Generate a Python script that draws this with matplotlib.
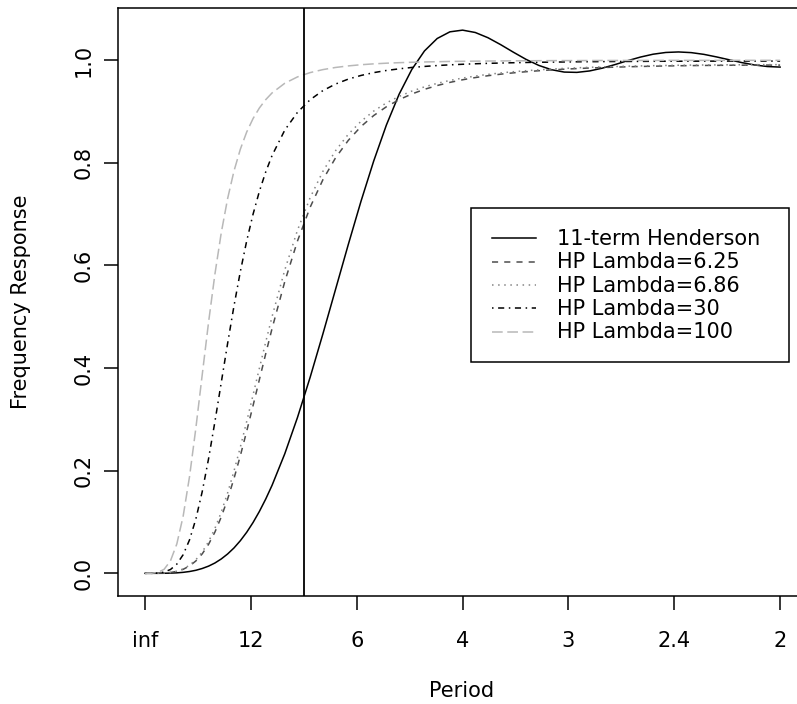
import matplotlib
matplotlib.use("Agg")
import matplotlib.pyplot as plt
from matplotlib.lines import Line2D
from matplotlib.patches import Rectangle

plt.rcParams['font.family'] = ['DejaVu Sans']
plt.rcParams['font.size'] = 15

# frequency (cycles per period)
freq = [0, 0.005, 0.01, 0.015, 0.02, 0.025, 0.03, 0.035, 0.04, 0.045, 0.05,
        0.055, 0.06, 0.065, 0.07, 0.075, 0.08, 0.085, 0.09, 0.095, 0.10,
        0.11, 0.12, 0.13, 0.14, 0.15, 0.16, 0.17, 0.18, 0.19, 0.20,
        0.21, 0.22, 0.23, 0.24, 0.25, 0.26, 0.27, 0.28, 0.29, 0.30,
        0.31, 0.32, 0.33, 0.34, 0.35, 0.36, 0.37, 0.38, 0.39, 0.40,
        0.41, 0.42, 0.43, 0.44, 0.45, 0.46, 0.47, 0.48, 0.49, 0.50]

henderson = [0, 0, 0, 0.0001, 0.0004, 0.0009, 0.0019, 0.0035, 0.0059, 0.0094, 0.0140,
             0.0201, 0.0280, 0.0377, 0.0494, 0.0635, 0.0799, 0.0989, 0.1205, 0.1447, 0.1715,
             0.2329, 0.3036, 0.3821, 0.4663, 0.5534, 0.6405, 0.7247, 0.8031, 0.8733, 0.9332,
             0.9815, 1.0177, 1.0419, 1.0549, 1.0582, 1.0536, 1.0434, 1.0299, 1.0152, 1.0012,
             0.9895, 0.9811, 0.9765, 0.9759, 0.9787, 0.9841, 0.9911, 0.9987, 1.0057, 1.0113,
             1.0147, 1.0157, 1.0144, 1.0110, 1.0060, 1.0004, 0.9949, 0.9903, 0.9873, 0.9862]

hp_625 = [0, 0, 0.0001, 0.0005, 0.0016, 0.0038, 0.0078, 0.0143, 0.0241, 0.0379, 0.0565,
          0.0804, 0.1098, 0.1446, 0.1846, 0.2290, 0.2767, 0.3265, 0.3773, 0.4278, 0.4770,
          0.5683, 0.6474, 0.7133, 0.7667, 0.8095, 0.8434, 0.8704, 0.8918, 0.9089, 0.9227,
          0.9338, 0.9429, 0.9503, 0.9564, 0.9615, 0.9658, 0.9694, 0.9724, 0.9750, 0.9772,
          0.9791, 0.9807, 0.9821, 0.9833, 0.9844, 0.9853, 0.9861, 0.9868, 0.9874, 0.9879,
          0.9884, 0.9888, 0.9891, 0.9894, 0.9896, 0.9898, 0.9899, 0.9900, 0.9901, 0.9901]

hp_686 = [0, 0, 0.0001, 0.0005, 0.0017, 0.0041, 0.0085, 0.0157, 0.0264, 0.0415, 0.0617,
          0.0875, 0.1192, 0.1566, 0.1991, 0.2458, 0.2957, 0.3473, 0.3994, 0.4507, 0.5002,
          0.5910, 0.6684, 0.7319, 0.7830, 0.8234, 0.8553, 0.8805, 0.9005, 0.9164, 0.9291,
          0.9394, 0.9477, 0.9545, 0.9602, 0.9648, 0.9687, 0.9720, 0.9748, 0.9772, 0.9792,
          0.9809, 0.9824, 0.9837, 0.9848, 0.9858, 0.9866, 0.9873, 0.9880, 0.9885, 0.9890,
          0.9894, 0.9898, 0.9901, 0.9903, 0.9905, 0.9907, 0.9908, 0.9909, 0.9910, 0.9910]

hp_30 = [0, 0, 0.0005, 0.0024, 0.0074, 0.0179, 0.0363, 0.0651, 0.1059, 0.1591, 0.2233,
         0.2955, 0.3718, 0.4480, 0.5208, 0.5877, 0.6474, 0.6994, 0.7441, 0.7820, 0.8140,
         0.8634, 0.8981, 0.9227, 0.9404, 0.9532, 0.9628, 0.9699, 0.9754, 0.9796, 0.9828,
         0.9855, 0.9875, 0.9892, 0.9906, 0.9917, 0.9927, 0.9935, 0.9941, 0.9947, 0.9952,
         0.9956, 0.9959, 0.9962, 0.9965, 0.9967, 0.9969, 0.9971, 0.9972, 0.9973, 0.9975,
         0.9976, 0.9976, 0.9977, 0.9978, 0.9978, 0.9979, 0.9979, 0.9979, 0.9979, 0.9979]

hp_100 = [0, 0.0001, 0.0016, 0.0078, 0.0243, 0.0572, 0.1115, 0.1883, 0.2831, 0.3868, 0.4893,
          0.5830, 0.6636, 0.7301, 0.7837, 0.8261, 0.8596, 0.8858, 0.9065, 0.9228, 0.9359,
          0.9547, 0.9671, 0.9755, 0.9813, 0.9855, 0.9885, 0.9908, 0.9925, 0.9938, 0.9948,
          0.9956, 0.9962, 0.9967, 0.9972, 0.9975, 0.9978, 0.9980, 0.9982, 0.9984, 0.9985,
          0.9987, 0.9988, 0.9989, 0.9989, 0.9990, 0.9991, 0.9991, 0.9992, 0.9992, 0.9992,
          0.9993, 0.9993, 0.9993, 0.9993, 0.9993, 0.9994, 0.9994, 0.9994, 0.9994, 0.9994]

labels = ['11-term Henderson', 'HP Lambda=6.25', 'HP Lambda=6.86',
          'HP Lambda=30', 'HP Lambda=100']
period_ticks = [0, 1/12, 2/12, 3/12, 4/12, 5/12, 6/12]
period_labels = ['inf', '12', '6', '4', '3', '2.4', '2']
y_ticks = [0.0, 0.2, 0.4, 0.6, 0.8, 1.0]
cutoff = 1/8

colors = ['black', '#4d4d4d', '#858585', 'black', '#b8b8b8']
styles = ['-', (0, (4, 4)), (0, (1, 3)), (0, (1, 3, 4, 3)), (0, (7, 3))]

W, H = 797, 704
fig = plt.figure(figsize=(W / 100, H / 100), dpi=100)


def fx(px):
    return px / W


def fy(py):
    return 1 - py / H


ax = fig.add_axes([fx(118.4), fy(596), (805.5 - 118.4) / W, (596 - 7.5) / H])

for ys, lab, col, ls in zip([henderson, hp_625, hp_686, hp_30, hp_100], labels, colors, styles):
    ax.plot(freq, ys, color=col, linestyle=ls, lw=1.1, label=lab)
ax.axvline(cutoff, color='black', lw=1.3)

ax.set_xlim(-0.021, 0.52)
ax.set_ylim(-0.0442, 1.1023)
ax.set_xticks(period_ticks, period_labels)
ax.set_yticks(y_ticks, [f'{v:.1f}' for v in y_ticks])
ax.tick_params(direction='out', length=10, width=1.1, color='black')
ax.tick_params(axis='x', pad=15.5)
ax.tick_params(axis='y', pad=8, labelrotation=90)
for lbl in ax.get_yticklabels():
    lbl.set_va('center')
for sp in ax.spines.values():
    sp.set_linewidth(1.1)

fig.text(fx(461.8), fy(696.7), 'Period', ha='center', va='baseline')
fig.text(fx(26.7), fy(302), 'Frequency Response', rotation=90,
         rotation_mode='anchor', ha='center', va='baseline')

# legend box drawn by hand to match the reference layout
fig.add_artist(Rectangle((fx(470.7), fy(361.7)), fx(789) - fx(470.7), fy(208) - fy(361.7),
                         transform=fig.transFigure, facecolor='white',
                         edgecolor='black', lw=1.1))
row_y = [238.3, 261.7, 285.0, 308.3, 331.7]
for ry, lab, col, ls in zip(row_y, labels, colors, styles):
    fig.add_artist(Line2D([fx(491.7), fx(536)], [fy(ry), fy(ry)], transform=fig.transFigure,
                          color=col, linestyle=ls, lw=1.1))
    fig.text(fx(557), fy(ry + 6.7), lab, ha='left', va='baseline')

fig.savefig('out.png', dpi=100)
